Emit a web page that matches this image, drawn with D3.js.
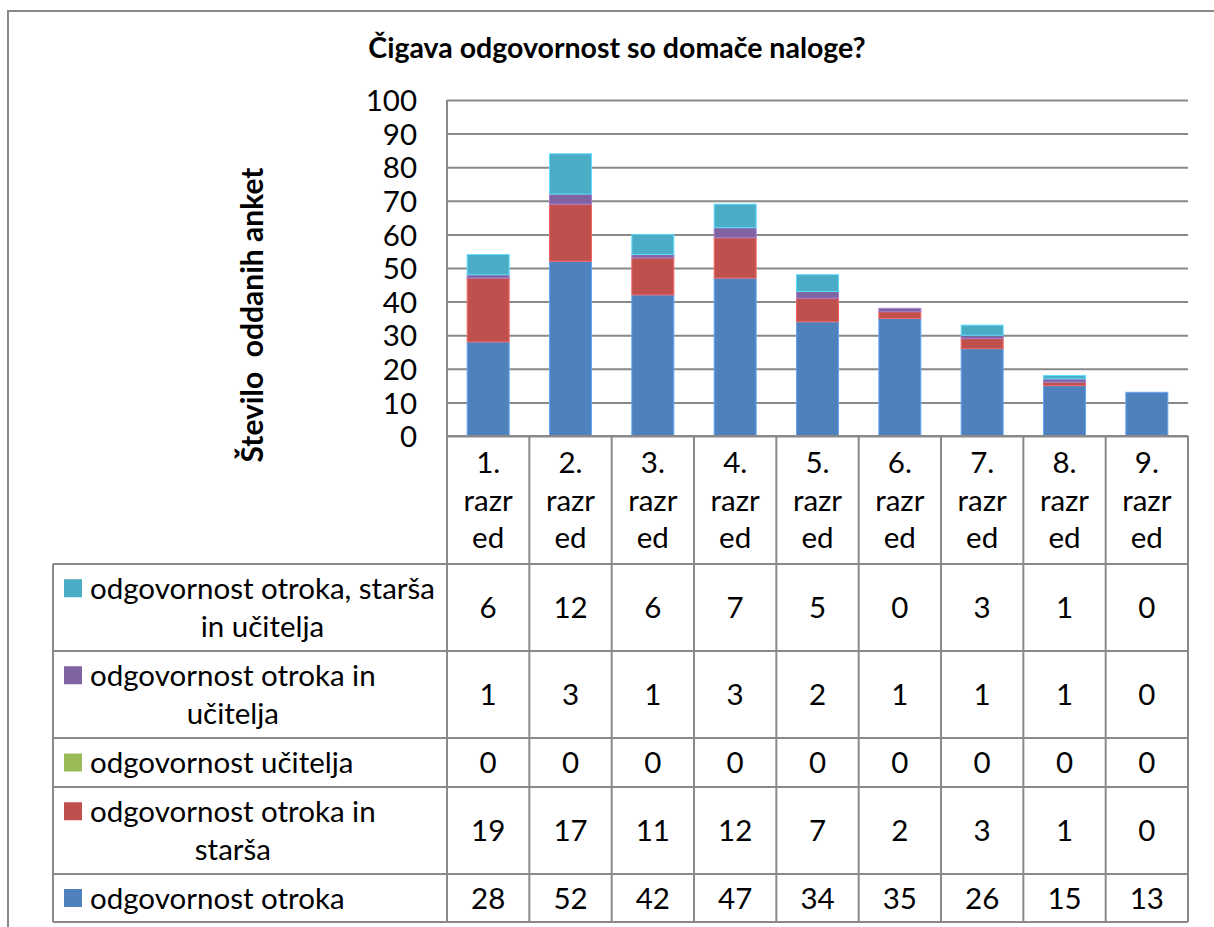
<!DOCTYPE html>
<html lang="sl">
<head>
<meta charset="UTF-8">
<title>Čigava odgovornost so domače naloge?</title>
<style>
  body { margin: 0; background: #fff; }
  text { font-family: Lato, "Open Sans", sans-serif; fill: #000; }
</style>
</head>
<body>
<svg id="chart" width="1214" height="927"></svg>
<script src="https://d3js.org/d3.v7.min.js"></script>
<script>
// data
var categories = ["1. razred", "2. razred", "3. razred", "4. razred", "5. razred",
                  "6. razred", "7. razred", "8. razred", "9. razred"];
var seriesNames = ["odgovornost otroka", "odgovornost otroka in starša", "odgovornost učitelja",
                   "odgovornost otroka in učitelja", "odgovornost otroka, starša in učitelja"];
var otroka          = [28, 52, 42, 47, 34, 35, 26, 15, 13];
var otrokaStarsa    = [19, 17, 11, 12, 7, 2, 3, 1, 0];
var ucitelja        = [0, 0, 0, 0, 0, 0, 0, 0, 0];
var otrokaUcitelja  = [1, 3, 1, 3, 2, 1, 1, 1, 0];
var vsi             = [6, 12, 6, 7, 5, 0, 3, 1, 0];
var yTicks = [0, 10, 20, 30, 40, 50, 60, 70, 80, 90, 100];

var seriesValues = [otroka, otrokaStarsa, ucitelja, otrokaUcitelja, vsi];
var colors = ["#4F81BD", "#C0504D", "#9BBB59", "#8064A2", "#4BACC6"];

var svg = d3.select("#chart"),
  plotL = 447, plotR = 1188, plotT = 100, plotB = 436,
  tableLeft = 53,
  fs = 29.5,
  grid = "#898989";

// one row object per category for d3.stack
var rows = categories.map(function (c, i) {
  var r = { cat: c };
  seriesNames.forEach(function (s, j) { r[s] = seriesValues[j][i]; });
  return r;
});
var stacked = d3.stack().keys(seriesNames)(rows);

var x = d3.scaleBand().domain(categories).range([plotL, plotR]).padding(0);
var y = d3.scaleLinear().domain([0, 100]).range([plotB, plotT]);
var barW = x.bandwidth() * 0.51;

// outer frame
svg.append("rect")
  .attr("x", 8).attr("y", 11).attr("width", 1300).attr("height", 1000)
  .attr("fill", "none").attr("stroke", grid).attr("stroke-width", 2);

// title
svg.append("text")
  .attr("x", 617).attr("y", 58)
  .attr("text-anchor", "middle")
  .style("font-weight", "bold").style("font-size", "28.5px")
  .text("Čigava odgovornost so domače naloge?");

// y axis title
svg.append("text")
  .attr("transform", "translate(252,315) rotate(-90)")
  .attr("text-anchor", "middle").attr("dy", "0.35em")
  .style("font-weight", "bold").style("font-size", "30px")
  .style("white-space", "pre")
  .text("Število  oddanih anket");

// gridlines + tick labels
var yAxis = svg.append("g")
  .attr("transform", "translate(" + plotL + ",0)")
  .call(d3.axisLeft(y).tickValues(yTicks).tickSize(-(plotR - plotL)).tickPadding(30)
    .tickFormat(d3.format("d")));
yAxis.select(".domain").remove();
yAxis.selectAll(".tick line").attr("stroke", grid).attr("stroke-width", 2);
yAxis.selectAll(".tick text")
  .style("font-family", "Lato, sans-serif").style("font-size", fs + "px")
  .attr("dy", "0.36em");

// stacked bars
svg.append("g").selectAll("g")
  .data(stacked)
  .join("g")
    .attr("fill", function (d, i) { return colors[i]; })
    .attr("stroke", function (d, i) { return d3.color(colors[i]).brighter(0.7); })
    .attr("stroke-width", 1)
  .selectAll("rect")
  .data(function (d) { return d.filter(function (p) { return p[1] > p[0]; }); })
  .join("rect")
    .attr("x", function (d) { return x(d.data.cat) + (x.bandwidth() - barW) / 2; })
    .attr("width", barW)
    .attr("y", function (d) { return y(d[1]); })
    .attr("height", function (d) { return y(d[0]) - y(d[1]); });

// data table
var headerBottom = 564;
var rowEdges = [564, 651, 738, 787, 874, 922];
var tableOrder = [4, 3, 2, 1, 0]; // series shown top to bottom

var lines = svg.append("g").attr("stroke", grid).attr("stroke-width", 2);
lines.append("line").attr("x1", plotL).attr("x2", plotL).attr("y1", plotT).attr("y2", rowEdges[5]);
lines.append("line").attr("x1", plotL).attr("x2", plotR).attr("y1", plotB).attr("y2", plotB);
lines.append("line").attr("x1", tableLeft).attr("x2", tableLeft).attr("y1", rowEdges[0]).attr("y2", rowEdges[5]);
categories.forEach(function (c) {
  var xe = x(c) + x.bandwidth();
  lines.append("line").attr("x1", xe).attr("x2", xe).attr("y1", plotB).attr("y2", rowEdges[5]);
});
rowEdges.forEach(function (ry) {
  lines.append("line").attr("x1", tableLeft).attr("x2", plotR).attr("y1", ry).attr("y2", ry);
});

// category labels wrapped like the cell does
function catLines(c) {
  var p = c.split(" ");
  return [p[0], p[1].slice(0, 4), p[1].slice(4)];
}
svg.append("g").selectAll("text")
  .data(categories)
  .join("text")
    .attr("text-anchor", "middle")
    .style("font-size", fs + "px")
    .each(function (c) {
      var t = d3.select(this), ls = catLines(c);
      ls.forEach(function (l, k) {
        t.append("tspan").attr("x", x(c) + x.bandwidth() / 2)
          .attr("y", (plotB + headerBottom) / 2 + (k - 1) * 37.5)
          .attr("dy", "0.36em").text(l);
      });
    });

// legend column with wrapped names
var maxLegendW = 352;
tableOrder.forEach(function (si, r) {
  var y0 = rowEdges[r], y1 = rowEdges[r + 1], cy = (y0 + y1) / 2;
  var words = seriesNames[si].split(" "), wrapped = [], cur = "";
  var probe = svg.append("text").style("font-size", fs + "px");
  words.forEach(function (w) {
    var test = cur ? cur + " " + w : w;
    probe.text(test);
    if (probe.node().getComputedTextLength() > maxLegendW && cur) {
      wrapped.push(cur); cur = w;
    } else cur = test;
  });
  wrapped.push(cur);
  probe.text(wrapped[0]);
  var firstW = probe.node().getComputedTextLength();
  probe.remove();

  var lh = 38.5;
  var firstY = cy - (wrapped.length - 1) * lh / 2;
  svg.append("rect")
    .attr("x", 64).attr("y", firstY - 9).attr("width", 18).attr("height", 18)
    .attr("fill", colors[si]);
  var t = svg.append("text")
    .attr("text-anchor", "middle").style("font-size", fs + "px");
  wrapped.forEach(function (l, k) {
    t.append("tspan").attr("x", 90 + firstW / 2).attr("y", firstY + k * lh)
      .attr("dy", "0.36em").text(l);
  });

  // values
  svg.append("g").selectAll("text")
    .data(seriesValues[si])
    .join("text")
      .attr("text-anchor", "middle")
      .style("font-size", fs + "px")
      .attr("x", function (v, i) { return x(categories[i]) + x.bandwidth() / 2; })
      .attr("y", cy).attr("dy", "0.36em")
      .text(function (v) { return v; });
});
</script>
</body>
</html>
